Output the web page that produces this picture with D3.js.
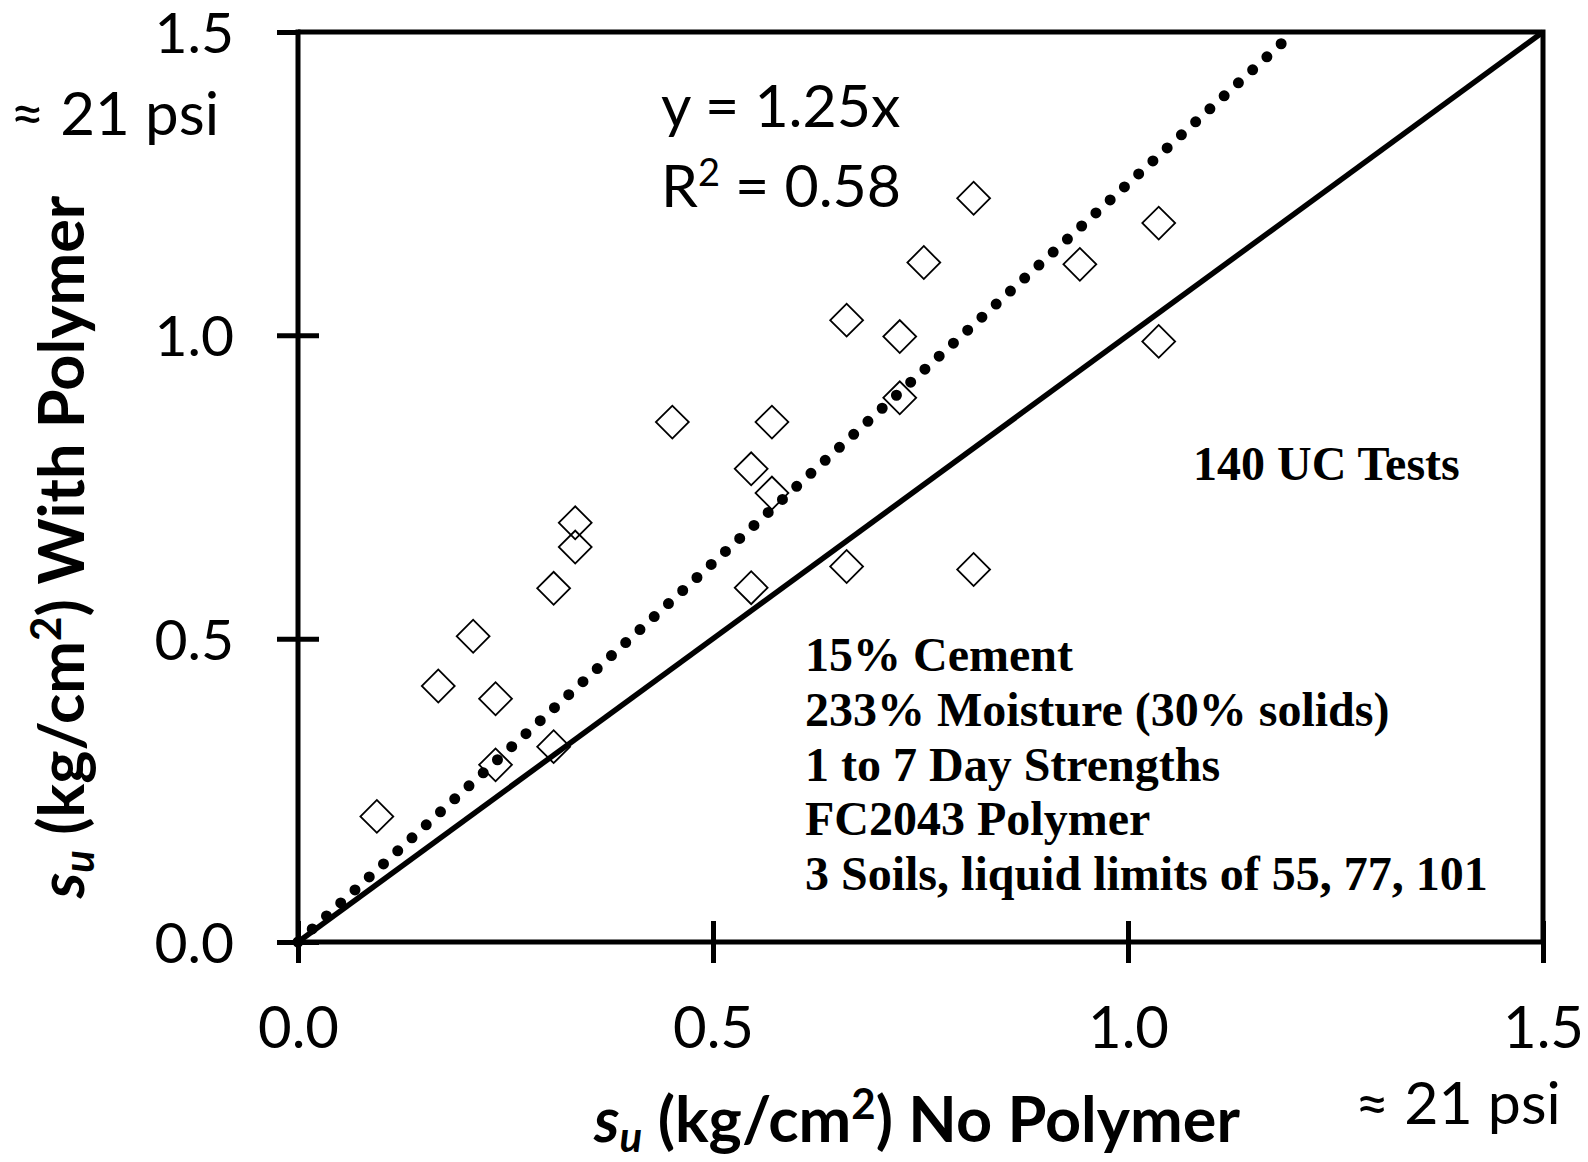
<!DOCTYPE html>
<html>
<head>
<meta charset="utf-8">
<script src="https://cdn.jsdelivr.net/npm/d3@7"></script>
<style>
  html, body { margin: 0; padding: 0; background: #fff; }
  svg { display: block; }
</style>
</head>
<body>
<svg id="chart" width="1588" height="1162"></svg>
<script>
// ---- data ----
const xNoPolymer = [0.095, 0.169, 0.211, 0.238, 0.238, 0.308, 0.308, 0.334, 0.334, 0.451, 0.546, 0.546,
                    0.571, 0.571, 0.661, 0.661, 0.725, 0.725, 0.754, 0.814, 0.814, 0.942, 1.037, 1.037];
const yWithPolymer = [0.207, 0.422, 0.504, 0.401, 0.292, 0.583, 0.322, 0.691, 0.651, 0.857, 0.780, 0.584,
                      0.740, 0.857, 1.025, 0.619, 0.998, 0.897, 1.120, 1.226, 0.614, 1.117, 1.185, 0.990];
const tickValues = [0.0, 0.5, 1.0, 1.5];
const tickLabels = ["0.0", "0.5", "1.0", "1.5"];
const trendSlope = 1.25;
const equalityLine = [[0, 0], [1.5, 1.5]];
const trendLine = [[0, 0], [1.2, 1.2 * trendSlope]];
const trendText = ["y = 1.25x", "R² = 0.58"];
const notesTop = "140 UC Tests";
const notesBlock = ["15% Cement", "233% Moisture (30% solids)", "1 to 7 Day Strengths",
                    "FC2043 Polymer", "3 Soils, liquid limits of 55, 77, 101"];

// ---- layout ----
const svg = d3.select("#chart");
const x = d3.scaleLinear().domain([0, 1.5]).range([298, 1543]);
const y = d3.scaleLinear().domain([0, 1.5]).range([942, 32]);
const sans = "Lato, 'Open Sans', sans-serif";
const serif = "'Liberation Serif', 'Times New Roman', serif";

// frame (top & right)
svg.append("path")
  .attr("d", `M${x(0)},${y(1.5)}H${x(1.5)}V${y(0)}`)
  .attr("fill", "none").attr("stroke", "#000").attr("stroke-width", 5);

// axes
const xAxis = d3.axisBottom(x).tickValues(tickValues).tickFormat((d, i) => tickLabels[i]).tickSizeOuter(0);
const gx = svg.append("g").attr("transform", `translate(0,${y(0)})`).call(xAxis);
gx.select(".domain").attr("stroke-width", 5).attr("d", `M${x(0) - 2.5},0H${x(1.5) + 2.5}`);
gx.selectAll(".tick line").attr("y1", -21).attr("y2", 21).attr("stroke-width", 5);
gx.selectAll(".tick text").attr("y", 106).attr("dy", 0)
  .attr("font-family", sans).attr("font-size", 58).attr("fill", "#000");

const yAxis = d3.axisLeft(y).tickValues(tickValues).tickFormat((d, i) => tickLabels[i]).tickSizeOuter(0);
const gy = svg.append("g").attr("transform", `translate(${x(0)},0)`).call(yAxis);
gy.select(".domain").attr("stroke-width", 5).attr("d", `M0,${y(1.5) - 2.5}V${y(0) + 2.5}`);
gy.selectAll(".tick line").attr("x1", -21).attr("x2", d => d === 1.5 ? 0 : 21).attr("stroke-width", 5);
gy.selectAll(".tick text").attr("x", -64).attr("dy", "0.36em")
  .attr("font-family", sans).attr("font-size", 57).attr("fill", "#000");

// data points (open diamonds)
svg.append("g").selectAll("path")
  .data(xNoPolymer.map((v, i) => [v, yWithPolymer[i]]))
  .join("path")
  .attr("d", d3.symbol().type(d3.symbolSquare).size(540))
  .attr("transform", d => `translate(${x(d[0])},${y(d[1])}) rotate(45)`)
  .attr("fill", "none").attr("stroke", "#000").attr("stroke-width", 1.8);

// lines
const line = d3.line().x(d => x(d[0])).y(d => y(d[1]));
svg.append("path").datum(equalityLine).attr("d", line)
  .attr("fill", "none").attr("stroke", "#000").attr("stroke-width", 5.5);
svg.append("path").datum(trendLine).attr("d", line)
  .attr("fill", "none").attr("stroke", "#000").attr("stroke-width", 11)
  .attr("stroke-linecap", "round").attr("stroke-dasharray", "0 19.3");

// trend equation
svg.append("text").attr("x", 661).attr("y", 127)
  .attr("font-family", sans).attr("font-size", 59).text(trendText[0]);
const r2 = svg.append("text").attr("x", 661).attr("y", 207)
  .attr("font-family", sans).attr("font-size", 59);
r2.append("tspan").text("R");
r2.append("tspan").attr("font-size", 38).attr("dy", -21).text("2");
r2.append("tspan").attr("dy", 21).text(" = 0.58");

// psi notes
svg.append("text").attr("x", 10).attr("y", 135)
  .attr("font-family", sans).attr("font-size", 60).text("≈ 21 psi");
svg.append("text").attr("x", 1355).attr("y", 1124)
  .attr("font-family", sans).attr("font-size", 59).text("≈ 21 psi");

// annotations
svg.append("text").attr("x", 1193).attr("y", 480)
  .attr("font-family", serif).attr("font-weight", "bold").attr("font-size", 48).text(notesTop);
svg.append("g").selectAll("text").data(notesBlock).join("text")
  .attr("x", 805).attr("y", (d, i) => 671 + i * 54.8)
  .attr("font-family", serif).attr("font-weight", "bold").attr("font-size", 48).text(d => d);

// axis titles
function title(g, rest) {
  g.attr("font-family", sans).attr("font-weight", "bold").attr("font-size", 63).attr("text-anchor", "middle");
  g.append("tspan").attr("font-style", "italic").text("s");
  g.append("tspan").attr("font-style", "italic").attr("font-size", 42).attr("dy", 10).text("u");
  g.append("tspan").attr("dy", -10).text(" (kg/cm");
  g.append("tspan").attr("font-size", 42).attr("dy", -23).text("2");
  g.append("tspan").attr("dy", 23).text(rest);
}
title(svg.append("text").attr("x", 917).attr("y", 1142), ") No Polymer");
title(svg.append("text").attr("transform", "translate(84,547) rotate(-90)"), ") With Polymer");
</script>
</body>
</html>
